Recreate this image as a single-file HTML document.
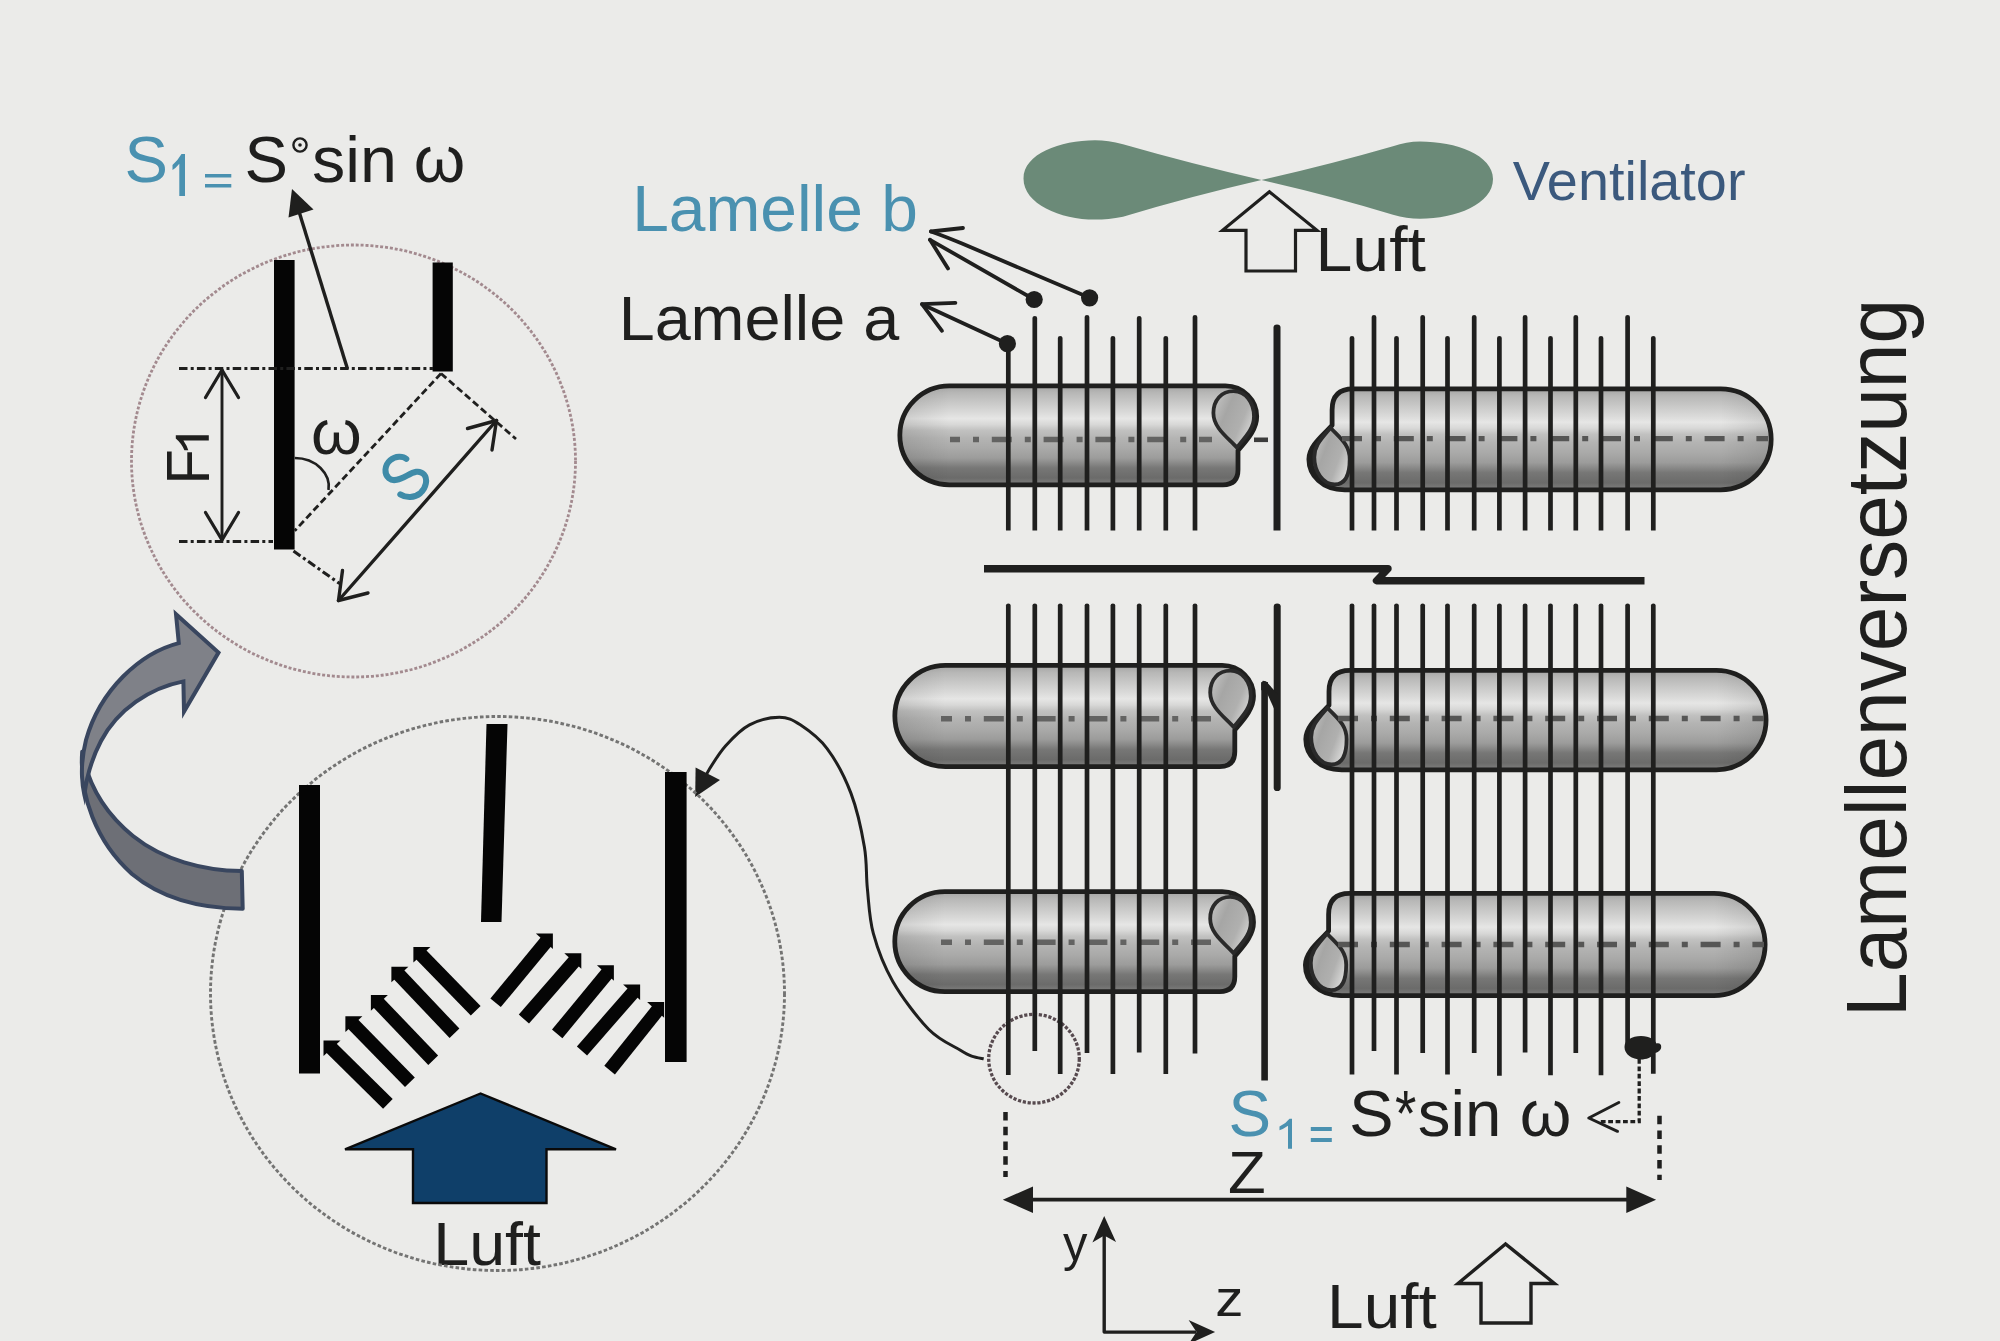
<!DOCTYPE html>
<html><head><meta charset="utf-8"><title>Lamellenversetzung</title>
<style>
html,body{margin:0;padding:0;background:#ebebe9;}
body{width:2000px;height:1341px;overflow:hidden;}
svg{display:block;}
svg text{font-family:"Liberation Sans",sans-serif;}
</style></head><body>
<svg width="2000" height="1341" viewBox="0 0 2000 1341">
<defs>
<linearGradient id="tg" x1="0" y1="0" x2="0" y2="1">
<stop offset="0" stop-color="#a4a4a3"/>
<stop offset="0.07" stop-color="#b7b7b6"/>
<stop offset="0.15" stop-color="#c5c5c4"/>
<stop offset="0.28" stop-color="#dcdcdb"/>
<stop offset="0.33" stop-color="#e6e6e5"/>
<stop offset="0.39" stop-color="#d8d8d7"/>
<stop offset="0.45" stop-color="#c1c1c0"/>
<stop offset="0.53" stop-color="#b4b4b3"/>
<stop offset="0.63" stop-color="#aaaaa9"/>
<stop offset="0.73" stop-color="#9c9c9b"/>
<stop offset="0.78" stop-color="#8a8a89"/>
<stop offset="0.83" stop-color="#777776"/>
<stop offset="0.93" stop-color="#6b6b6a"/>
<stop offset="0.98" stop-color="#7a7a79"/>
<stop offset="1" stop-color="#888887"/>
</linearGradient>
<linearGradient id="rg" x1="0" y1="0" x2="1" y2="0.6">
<stop offset="0" stop-color="#cbcbca"/>
<stop offset="0.4" stop-color="#a6a6a5"/>
<stop offset="0.75" stop-color="#b0b0af"/>
<stop offset="1" stop-color="#d4d4d3"/>
</linearGradient>
<linearGradient id="capL" x1="0" y1="0" x2="1" y2="0">
<stop offset="0" stop-color="#000" stop-opacity="0.10"/>
<stop offset="1" stop-color="#000" stop-opacity="0"/>
</linearGradient>
<linearGradient id="capR" x1="1" y1="0" x2="0" y2="0">
<stop offset="0" stop-color="#000" stop-opacity="0.10"/>
<stop offset="1" stop-color="#000" stop-opacity="0"/>
</linearGradient>
</defs>
<rect x="0" y="0" width="2000" height="1341" fill="#ebebe9"/>
<path d="M949.3,385.9 L1225.4,385.9 C1243.4,385.9 1256.7,400.5 1256.7,416.5 C1256.7,430.5 1245.4,441.5 1238.0,450.5 L1238.0,469.8 Q1238.0,484.8 1223.0,484.8 L949.3,484.8 A49.4,49.4 0 0 1 949.3,385.9 Z" fill="url(#tg)" stroke="#1f1f1e" stroke-width="4.8" stroke-linejoin="round"/>
<path d="M949.3,388.3 A47.0,47.0 0 0 0 949.3,482.4 Z" fill="url(#capL)"/>
<path d="M1236.8,447.5 C1227.8,437.5 1213.4,428.0 1213.4,413.0 C1213.4,400.0 1221.6,391.1 1233.6,391.1 C1245.6,391.1 1254.0,402.5 1254.0,416.5 C1254.0,428.5 1245.8,436.5 1236.8,447.5 Z" fill="url(#rg)" stroke="#2a2a2a" stroke-width="3.8" stroke-linejoin="round"/>
<path d="M945.4,665.4 L1222.2,665.4 C1240.2,665.4 1253.5,680.0 1253.5,696.0 C1253.5,710.0 1242.2,721.0 1234.8,730.0 L1234.8,751.6 Q1234.8,766.6 1219.8,766.6 L945.4,766.6 A50.6,50.6 0 0 1 945.4,665.4 Z" fill="url(#tg)" stroke="#1f1f1e" stroke-width="4.8" stroke-linejoin="round"/>
<path d="M945.4,667.8 A48.2,48.2 0 0 0 945.4,764.2 Z" fill="url(#capL)"/>
<path d="M1233.6,727.0 C1224.6,717.0 1210.2,707.5 1210.2,692.5 C1210.2,679.5 1218.4,670.6 1230.4,670.6 C1242.4,670.6 1250.8,682.0 1250.8,696.0 C1250.8,708.0 1242.6,716.0 1233.6,727.0 Z" fill="url(#rg)" stroke="#2a2a2a" stroke-width="3.8" stroke-linejoin="round"/>
<path d="M944.8,891.6 L1222.2,891.6 C1240.2,891.6 1253.5,906.2 1253.5,922.2 C1253.5,936.2 1242.2,947.2 1234.8,956.2 L1234.8,976.6 Q1234.8,991.6 1219.8,991.6 L944.8,991.6 A50.0,50.0 0 0 1 944.8,891.6 Z" fill="url(#tg)" stroke="#1f1f1e" stroke-width="4.8" stroke-linejoin="round"/>
<path d="M944.8,894.0 A47.6,47.6 0 0 0 944.8,989.2 Z" fill="url(#capL)"/>
<path d="M1233.6,953.2 C1224.6,943.2 1210.2,933.7 1210.2,918.7 C1210.2,905.7 1218.4,896.8 1230.4,896.8 C1242.4,896.8 1250.8,908.2 1250.8,922.2 C1250.8,934.2 1242.6,942.2 1233.6,953.2 Z" fill="url(#rg)" stroke="#2a2a2a" stroke-width="3.8" stroke-linejoin="round"/>
<path d="M1720.7,489.8 L1344.7,489.8 C1322.2,489.8 1308.9,475.2 1308.9,459.2 C1308.9,445.2 1324.7,434.2 1332.1,425.2 L1332.1,409.9 Q1332.1,388.9 1353.1,388.9 L1720.7,388.9 A50.4,50.4 0 0 1 1720.7,489.8 Z" fill="url(#tg)" stroke="#1f1f1e" stroke-width="4.8" stroke-linejoin="round"/>
<path d="M1720.7,487.4 A48.0,48.0 0 0 0 1720.7,391.3 Z" fill="url(#capR)"/>
<path d="M1344.7,489.8 C1324.6,489.8 1311.3,475.2 1311.3,459.2 C1311.3,445.2 1324.7,434.2 1332.1,425.2" fill="none" stroke="#1f1f1e" stroke-width="3.6"/>
<path d="M1330.5,427.7 C1339.5,437.7 1349.7,444.2 1349.7,459.2 C1349.7,472.2 1346.7,484.4 1334.7,484.4 C1322.7,484.4 1314.3,471.2 1314.3,457.2 C1314.3,445.2 1321.5,438.7 1330.5,427.7 Z" fill="url(#rg)" stroke="#2a2a2a" stroke-width="3.8" stroke-linejoin="round"/>
<path d="M1716.4,769.8 L1341.6,769.8 C1319.1,769.8 1305.8,755.2 1305.8,739.2 C1305.8,725.2 1321.6,714.2 1329.0,705.2 L1329.0,691.4 Q1329.0,670.4 1350.0,670.4 L1716.4,670.4 A49.7,49.7 0 0 1 1716.4,769.8 Z" fill="url(#tg)" stroke="#1f1f1e" stroke-width="4.8" stroke-linejoin="round"/>
<path d="M1716.4,767.4 A47.3,47.3 0 0 0 1716.4,672.8 Z" fill="url(#capR)"/>
<path d="M1341.6,769.8 C1321.5,769.8 1308.2,755.2 1308.2,739.2 C1308.2,725.2 1321.6,714.2 1329.0,705.2" fill="none" stroke="#1f1f1e" stroke-width="3.6"/>
<path d="M1327.4,707.7 C1336.4,717.7 1346.6,724.2 1346.6,739.2 C1346.6,752.2 1343.6,764.4 1331.6,764.4 C1319.6,764.4 1311.2,751.2 1311.2,737.2 C1311.2,725.2 1318.4,718.7 1327.4,707.7 Z" fill="url(#rg)" stroke="#2a2a2a" stroke-width="3.8" stroke-linejoin="round"/>
<path d="M1714.0,995.6 L1341.2,995.6 C1318.7,995.6 1305.4,981.0 1305.4,965.0 C1305.4,951.0 1321.2,940.0 1328.6,931.0 L1328.6,914.4 Q1328.6,893.4 1349.6,893.4 L1714.0,893.4 A51.1,51.1 0 0 1 1714.0,995.6 Z" fill="url(#tg)" stroke="#1f1f1e" stroke-width="4.8" stroke-linejoin="round"/>
<path d="M1714.0,993.2 A48.7,48.7 0 0 0 1714.0,895.8 Z" fill="url(#capR)"/>
<path d="M1341.2,995.6 C1321.1,995.6 1307.8,981.0 1307.8,965.0 C1307.8,951.0 1321.2,940.0 1328.6,931.0" fill="none" stroke="#1f1f1e" stroke-width="3.6"/>
<path d="M1327.0,933.5 C1336.0,943.5 1346.2,950.0 1346.2,965.0 C1346.2,978.0 1343.2,990.2 1331.2,990.2 C1319.2,990.2 1310.8,977.0 1310.8,963.0 C1310.8,951.0 1318.0,944.5 1327.0,933.5 Z" fill="url(#rg)" stroke="#2a2a2a" stroke-width="3.8" stroke-linejoin="round"/>
<path d="M950,439.5 H1212" stroke="#636362" stroke-width="5.4" stroke-dasharray="20 13 6 12.8" stroke-dashoffset="10" fill="none"/>
<path d="M1254,439.8 H1268" stroke="#3c3c3c" stroke-width="4.6"/>
<path d="M941,718.8 H1212" stroke="#636362" stroke-width="5.4" stroke-dasharray="20 13 6 12.8" stroke-dashoffset="9" fill="none"/>
<path d="M941,942.2 H1212" stroke="#636362" stroke-width="5.4" stroke-dasharray="20 13 6 12.8" stroke-dashoffset="9" fill="none"/>
<path d="M1342,438.6 H1768" stroke="#565655" stroke-width="5.4" stroke-dasharray="20 13 6 12.8" stroke-dashoffset="0" fill="none"/>
<path d="M1338,718.5 H1764" stroke="#565655" stroke-width="5.4" stroke-dasharray="20 13 6 12.8" stroke-dashoffset="0" fill="none"/>
<path d="M1338,944.5 H1764" stroke="#565655" stroke-width="5.4" stroke-dasharray="20 13 6 12.8" stroke-dashoffset="0" fill="none"/>
<ellipse cx="1034" cy="1058.7" rx="45.3" ry="44.3" fill="none" stroke="#574a4f" stroke-width="3.3" stroke-dasharray="3.2 1.7"/>
<path d="M1005.95,530.5 V346.1 Q1005.95,344.0 1008.30,344.0 Q1010.65,344.0 1010.65,346.1 V530.5 Z" fill="#1f1f1e"/>
<path d="M1032.45,530.5 V318.1 Q1032.45,316.0 1034.80,316.0 Q1037.15,316.0 1037.15,318.1 V530.5 Z" fill="#1f1f1e"/>
<path d="M1057.85,530.5 V338.1 Q1057.85,336.0 1060.20,336.0 Q1062.55,336.0 1062.55,338.1 V530.5 Z" fill="#1f1f1e"/>
<path d="M1084.65,530.5 V317.1 Q1084.65,315.0 1087.00,315.0 Q1089.35,315.0 1089.35,317.1 V530.5 Z" fill="#1f1f1e"/>
<path d="M1110.55,530.5 V338.1 Q1110.55,336.0 1112.90,336.0 Q1115.25,336.0 1115.25,338.1 V530.5 Z" fill="#1f1f1e"/>
<path d="M1136.85,530.5 V318.1 Q1136.85,316.0 1139.20,316.0 Q1141.55,316.0 1141.55,318.1 V530.5 Z" fill="#1f1f1e"/>
<path d="M1163.45,530.5 V338.1 Q1163.45,336.0 1165.80,336.0 Q1168.15,336.0 1168.15,338.1 V530.5 Z" fill="#1f1f1e"/>
<path d="M1192.65,530.5 V317.1 Q1192.65,315.0 1195.00,315.0 Q1197.35,315.0 1197.35,317.1 V530.5 Z" fill="#1f1f1e"/>
<path d="M1349.65,530.5 V338.1 Q1349.65,336.0 1352.00,336.0 Q1354.35,336.0 1354.35,338.1 V530.5 Z" fill="#1f1f1e"/>
<path d="M1371.65,530.5 V317.1 Q1371.65,315.0 1374.00,315.0 Q1376.35,315.0 1376.35,317.1 V530.5 Z" fill="#1f1f1e"/>
<path d="M1394.15,530.5 V338.1 Q1394.15,336.0 1396.50,336.0 Q1398.85,336.0 1398.85,338.1 V530.5 Z" fill="#1f1f1e"/>
<path d="M1420.35,530.5 V317.1 Q1420.35,315.0 1422.70,315.0 Q1425.05,315.0 1425.05,317.1 V530.5 Z" fill="#1f1f1e"/>
<path d="M1445.15,530.5 V338.1 Q1445.15,336.0 1447.50,336.0 Q1449.85,336.0 1449.85,338.1 V530.5 Z" fill="#1f1f1e"/>
<path d="M1471.85,530.5 V317.1 Q1471.85,315.0 1474.20,315.0 Q1476.55,315.0 1476.55,317.1 V530.5 Z" fill="#1f1f1e"/>
<path d="M1497.05,530.5 V338.1 Q1497.05,336.0 1499.40,336.0 Q1501.75,336.0 1501.75,338.1 V530.5 Z" fill="#1f1f1e"/>
<path d="M1522.75,530.5 V317.1 Q1522.75,315.0 1525.10,315.0 Q1527.45,315.0 1527.45,317.1 V530.5 Z" fill="#1f1f1e"/>
<path d="M1548.15,530.5 V338.1 Q1548.15,336.0 1550.50,336.0 Q1552.85,336.0 1552.85,338.1 V530.5 Z" fill="#1f1f1e"/>
<path d="M1573.45,530.5 V317.1 Q1573.45,315.0 1575.80,315.0 Q1578.15,315.0 1578.15,317.1 V530.5 Z" fill="#1f1f1e"/>
<path d="M1598.65,530.5 V338.1 Q1598.65,336.0 1601.00,336.0 Q1603.35,336.0 1603.35,338.1 V530.5 Z" fill="#1f1f1e"/>
<path d="M1625.25,530.5 V317.1 Q1625.25,315.0 1627.60,315.0 Q1629.95,315.0 1629.95,317.1 V530.5 Z" fill="#1f1f1e"/>
<path d="M1650.95,530.5 V338.1 Q1650.95,336.0 1653.30,336.0 Q1655.65,336.0 1655.65,338.1 V530.5 Z" fill="#1f1f1e"/>
<path d="M1005.95,1075.0 V605.6 Q1005.95,603.5 1008.30,603.5 Q1010.65,603.5 1010.65,605.6 V1075.0 Z" fill="#1f1f1e"/>
<path d="M1032.45,1051.0 V605.6 Q1032.45,603.5 1034.80,603.5 Q1037.15,603.5 1037.15,605.6 V1051.0 Z" fill="#1f1f1e"/>
<path d="M1057.85,1074.0 V605.6 Q1057.85,603.5 1060.20,603.5 Q1062.55,603.5 1062.55,605.6 V1074.0 Z" fill="#1f1f1e"/>
<path d="M1084.65,1053.0 V605.6 Q1084.65,603.5 1087.00,603.5 Q1089.35,603.5 1089.35,605.6 V1053.0 Z" fill="#1f1f1e"/>
<path d="M1110.55,1074.0 V605.6 Q1110.55,603.5 1112.90,603.5 Q1115.25,603.5 1115.25,605.6 V1074.0 Z" fill="#1f1f1e"/>
<path d="M1136.85,1052.5 V605.6 Q1136.85,603.5 1139.20,603.5 Q1141.55,603.5 1141.55,605.6 V1052.5 Z" fill="#1f1f1e"/>
<path d="M1163.45,1074.0 V605.6 Q1163.45,603.5 1165.80,603.5 Q1168.15,603.5 1168.15,605.6 V1074.0 Z" fill="#1f1f1e"/>
<path d="M1192.65,1053.5 V605.6 Q1192.65,603.5 1195.00,603.5 Q1197.35,603.5 1197.35,605.6 V1053.5 Z" fill="#1f1f1e"/>
<path d="M1349.65,1074.5 V605.6 Q1349.65,603.5 1352.00,603.5 Q1354.35,603.5 1354.35,605.6 V1074.5 Z" fill="#1f1f1e"/>
<path d="M1371.65,1051.0 V605.6 Q1371.65,603.5 1374.00,603.5 Q1376.35,603.5 1376.35,605.6 V1051.0 Z" fill="#1f1f1e"/>
<path d="M1394.15,1074.5 V605.6 Q1394.15,603.5 1396.50,603.5 Q1398.85,603.5 1398.85,605.6 V1074.5 Z" fill="#1f1f1e"/>
<path d="M1420.35,1053.0 V605.6 Q1420.35,603.5 1422.70,603.5 Q1425.05,603.5 1425.05,605.6 V1053.0 Z" fill="#1f1f1e"/>
<path d="M1445.15,1074.5 V605.6 Q1445.15,603.5 1447.50,603.5 Q1449.85,603.5 1449.85,605.6 V1074.5 Z" fill="#1f1f1e"/>
<path d="M1471.85,1053.0 V605.6 Q1471.85,603.5 1474.20,603.5 Q1476.55,603.5 1476.55,605.6 V1053.0 Z" fill="#1f1f1e"/>
<path d="M1497.05,1075.8 V605.6 Q1497.05,603.5 1499.40,603.5 Q1501.75,603.5 1501.75,605.6 V1075.8 Z" fill="#1f1f1e"/>
<path d="M1522.75,1052.5 V605.6 Q1522.75,603.5 1525.10,603.5 Q1527.45,603.5 1527.45,605.6 V1052.5 Z" fill="#1f1f1e"/>
<path d="M1548.15,1075.3 V605.6 Q1548.15,603.5 1550.50,603.5 Q1552.85,603.5 1552.85,605.6 V1075.3 Z" fill="#1f1f1e"/>
<path d="M1573.45,1053.0 V605.6 Q1573.45,603.5 1575.80,603.5 Q1578.15,603.5 1578.15,605.6 V1053.0 Z" fill="#1f1f1e"/>
<path d="M1598.65,1075.3 V605.6 Q1598.65,603.5 1601.00,603.5 Q1603.35,603.5 1603.35,605.6 V1075.3 Z" fill="#1f1f1e"/>
<path d="M1625.25,1044.0 V605.6 Q1625.25,603.5 1627.60,603.5 Q1629.95,603.5 1629.95,605.6 V1044.0 Z" fill="#1f1f1e"/>
<path d="M1650.95,1073.7 V605.6 Q1650.95,603.5 1653.30,603.5 Q1655.65,603.5 1655.65,605.6 V1073.7 Z" fill="#1f1f1e"/>
<path d="M1273.50,530.5 V327.6 Q1273.50,324.5 1277.00,324.5 Q1280.50,324.5 1280.50,327.6 V530.5 Z" fill="#1f1f1e"/>
<path d="M1273.70,787.9 V606.6 Q1273.70,603.5 1277.20,603.5 Q1280.70,603.5 1280.70,606.6 V787.9 Q1280.70,791.0 1277.20,791.0 Q1273.70,791.0 1273.70,787.9 Z" fill="#1f1f1e"/>
<path d="M1264.6,1080.5 V682" stroke="#1f1f1e" stroke-width="6.6" fill="none"/>
<path d="M1261.2,683.5 L1262.8,680.8 L1266,681.2 L1278,694.5 L1278,709.5 L1274.2,709 L1267.2,693.5 L1261.2,690 Z" fill="#1f1f1e"/>
<path d="M984,568.8 H1388 L1376.5,580.7 H1644.5" stroke="#1f1f1e" stroke-width="7.4" fill="none" stroke-linejoin="round" stroke-linecap="butt"/>
<path d="M1261.5,180 Q1190,163.5 1123,144.3 C1113,141.6 1104,140.3 1095,140.3 C1060,140.3 1023.5,154 1023.5,178.5 C1023.5,204 1060,219.6 1095,219.6 C1104,219.6 1113,218.6 1123,216.7 Q1190,196.5 1261.5,180 Z M1261.5,180 Q1330,164.5 1393,146.3 C1402,143.4 1411,141.5 1420,141.5 C1456,141.5 1493,155 1493,179 C1493,204 1456,218.8 1420,218.8 C1411,218.8 1402,217.2 1393,214.7 Q1330,195.5 1261.5,180 Z" fill="#6b8a78"/>
<text transform="translate(1512.72,199.60) scale(0.9970,1)" font-size="56.00" fill="#3b597d">Ventilator</text>
<text transform="translate(632.16,230.80) scale(1.0138,1)" font-size="65.00" fill="#4a91b0">Lamelle b</text>
<text transform="translate(618.66,339.80) scale(1.0191,1)" font-size="63.50" fill="#1f1f1e">Lamelle a</text>
<text transform="translate(1315.54,270.80) scale(1.0589,1)" font-size="62.50" fill="#1f1f1e">Luft</text>
<text transform="translate(1327.07,1327.50) scale(1.0362,1)" font-size="63.50" fill="#1f1f1e">Luft</text>
<text transform="translate(433.17,1265.00) scale(1.0514,1)" font-size="61.50" fill="#1f1f1e">Luft</text>
<path d="M1269.4,191.8 L1222.5,230.3 H1246 V271 H1295.5 V230.3 H1317 Z" fill="none" stroke="#1f1f1e" stroke-width="3.2" stroke-linejoin="miter"/>
<path d="M1505.5,1244 L1458,1283.5 H1481 V1323 H1531 V1283.5 H1554.5 Z" fill="none" stroke="#1f1f1e" stroke-width="3.4" stroke-linejoin="miter"/>
<g stroke="#1f1f1e" stroke-width="3.8" fill="none" stroke-linecap="round" stroke-linejoin="round"><path d="M1034.2,299.5 L930,239.8"/><path d="M1089.6,297.8 L962,243.5 Q945,236.5 931,231.5"/><path d="M963,228 L931,231.5"/><path d="M930,239.8 L948,268.5"/><path d="M1007.4,343.7 L922,304.2"/><path d="M955.4,302.8 L922,304.2 L942,330.8"/></g>
<circle cx="1034.2" cy="299.5" r="8.6" fill="#1f1f1e"/>
<circle cx="1089.6" cy="297.8" r="8.6" fill="#1f1f1e"/>
<circle cx="1007.4" cy="343.7" r="8.6" fill="#1f1f1e"/>
<path d="M983.7,1058.8 C981.7,1058.4 975.6,1057.7 971.6,1056.2 C967.6,1054.7 967.2,1054.5 960.0,1050.0 C952.8,1045.5 939.8,1040.6 928.6,1029.2 C917.4,1017.8 902.0,997.3 892.8,981.4 C883.6,965.5 877.6,949.1 873.4,933.7 C869.2,918.3 868.9,903.3 867.4,888.9 C865.9,874.5 867.1,863.0 864.4,847.1 C861.7,831.2 857.2,809.8 851.0,793.4 C844.8,777.0 835.6,760.0 827.1,748.6 C818.6,737.2 808.2,730.0 800.3,724.8 C792.3,719.6 787.9,717.3 779.4,717.3 C770.9,717.3 758.5,720.1 749.5,724.8 C740.5,729.5 732.4,738.2 725.7,745.7 C719.0,753.2 713.3,762.8 709.2,769.5 C705.1,776.2 702.4,783.2 701.0,786.0" fill="none" stroke="#1f1f1e" stroke-width="3"/>
<path d="M695.2,797 L695.6,767.5 L720,780 Z" fill="#1f1f1e"/>
<path d="M1624.5,1047 C1624.5,1040 1632,1036 1641,1036 C1650,1036 1655,1040 1656.5,1043.5 C1659,1042.5 1661.5,1044 1661.2,1047 C1661,1051 1657,1052.5 1655,1053 C1652,1057.5 1646,1059.5 1641,1059.5 C1632,1059.5 1624.5,1054.5 1624.5,1047 Z" fill="#1f1f1e"/>
<path d="M1639.2,1059 V1121.6 H1600" fill="none" stroke="#1f1f1e" stroke-width="3.3" stroke-dasharray="4.8 2.6"/>
<path d="M1618.8,1102.5 L1588.8,1118 L1617.5,1131.3" fill="none" stroke="#1f1f1e" stroke-width="3" stroke-linecap="round" stroke-linejoin="round"/>
<path d="M1005.5,1112 V1177" stroke="#1f1f1e" stroke-width="4.5" stroke-dasharray="8.5 6.26" fill="none"/>
<path d="M1659.5,1115.7 V1180.1" stroke="#1f1f1e" stroke-width="4.5" stroke-dasharray="8.5 6.26" fill="none"/>
<path d="M1025,1199.7 H1634" stroke="#1f1f1e" stroke-width="3.7" fill="none"/>
<path d="M1002.8,1199.7 L1033,1186.5 V1212.9 Z M1656.1,1199.7 L1626.3,1186.5 V1212.9 Z" fill="#1f1f1e"/>
<text transform="translate(1227.99,1192.50) scale(1.0553,1)" font-size="58.50" fill="#1f1f1e">Z</text>
<text transform="translate(1228.43,1136.40) scale(0.9715,1)" font-size="65.70" fill="#4a91b0">S</text>
<path d="M1292.0,1118.8 L1292.0,1148.8 L1288.0,1148.8 L1288.0,1125.7 Q1283.3,1129.0 1279.5,1130.2 L1279.5,1126.6 Q1285.6,1123.9 1289.5,1118.8 Z" fill="#4a91b0"/>
<path d="M1310.8,1127 H1331.8 V1131.0 H1310.8 Z M1310.8,1138.0 H1331.8 V1142 H1310.8 Z" fill="#4a91b0"/>
<text transform="translate(1348.99,1136.40) scale(1.0191,1)" font-size="65.70" fill="#1f1f1e">S</text>
<text transform="translate(1395.04,1136.40) scale(0.8583,1)" font-size="64.00" fill="#1f1f1e">*</text>
<text transform="translate(1417.70,1136.40) scale(1.0219,1)" font-size="64.00" fill="#1f1f1e">sin</text>
<text transform="translate(1519.85,1136.40) scale(1.0335,1)" font-size="64.00" fill="#1f1f1e">ω</text>
<path d="M1104.2,1232 V1332.1 H1196" stroke="#1f1f1e" stroke-width="3.4" fill="none" stroke-linejoin="round"/>
<path d="M1104.2,1215.9 L1092.4,1242.6 L1104.2,1235.5 L1116,1242 Z M1215.1,1332.1 L1188.6,1320.1 L1196.5,1332.1 L1188.6,1344 Z" fill="#1f1f1e"/>
<text transform="translate(1062.98,1260.60) scale(0.9662,1)" font-size="50.60" fill="#1f1f1e">y</text>
<text transform="translate(1215.15,1316.10) scale(1.1004,1)" font-size="51.20" fill="#1f1f1e">z</text>
<text transform="translate(1905.9,1016.9) rotate(-90) scale(0.9330,1)" font-size="86.0" fill="#1f1f1e">Lamellenversetzung</text>
<ellipse cx="353.5" cy="461" rx="222" ry="216" fill="none" stroke="#a38a8f" stroke-width="2.8" stroke-dasharray="3 1.9"/>
<text transform="translate(124.57,182.00) scale(0.9957,1)" font-size="65.50" fill="#4a91b0">S</text>
<path d="M185.0,154.0 L185.0,196.0 L179.3,196.0 L179.3,163.7 Q175.6,168.3 172.5,170.0 L172.5,164.9 Q177.4,161.1 181.5,154.0 Z" fill="#4a91b0"/>
<path d="M205,174 H231.3 V177.6 H205 Z M205,183.9 H231.3 V187.5 H205 Z" fill="#4a91b0"/>
<text transform="translate(244.57,182.00) scale(0.9957,1)" font-size="65.50" fill="#1f1f1e">S</text>
<circle cx="300" cy="145" r="6.6" fill="none" stroke="#1f1f1e" stroke-width="2.4"/>
<circle cx="300" cy="145" r="1.8" fill="#1f1f1e"/>
<text transform="translate(311.97,182.00) scale(1.0297,1)" font-size="64.50" fill="#1f1f1e">sin</text>
<text transform="translate(413.66,182.00) scale(1.0233,1)" font-size="64.50" fill="#1f1f1e">ω</text>
<path d="M347.5,369 L297,205" stroke="#1f1f1e" stroke-width="3.4" fill="none"/>
<path d="M292,189 L288.5,217.5 L313.5,209.5 Z" fill="#1f1f1e"/>
<rect x="274" y="260" width="20.6" height="289.5" fill="#050505"/>
<rect x="432.6" y="262.5" width="20.2" height="109" fill="#050505"/>
<path d="M179,368.5 H433" stroke="#1f1f1e" stroke-width="3.1" stroke-dasharray="8.5 3.2 3 3.2" fill="none"/>
<path d="M179,541.5 H273" stroke="#1f1f1e" stroke-width="3.1" stroke-dasharray="8.5 3.2 3 3.2" fill="none"/>
<path d="M293.5,551 L339.5,583.5" stroke="#1f1f1e" stroke-width="3.1" stroke-dasharray="8.5 3.2 3 3.2" fill="none"/>
<path d="M441,373.5 L294.7,530.8" stroke="#1f1f1e" stroke-width="2.8" stroke-dasharray="7 3.6" fill="none"/>
<path d="M441,373.5 L516,439" stroke="#1f1f1e" stroke-width="2.8" stroke-dasharray="7 3.6" fill="none"/>
<g stroke="#1f1f1e" stroke-width="3.3" fill="none" stroke-linecap="round" stroke-linejoin="round"><path d="M222,370 V540" stroke-width="2.9"/><path d="M205.5,397.5 L222,370 L238.5,397.5"/><path d="M205.5,512.5 L222,540 L238.5,512.5"/></g>
<text transform="translate(208.8,484.4) rotate(-90) scale(0.942,1)" font-size="61.4" fill="#1f1f1e">F</text>
<g transform="translate(208.8,450.3) rotate(-90)">
<path d="M15.0,-33.0 L15.0,0.0 L9.7,0.0 L9.7,-25.4 Q4.4,-21.8 0.0,-20.5 L0.0,-24.4 Q7.0,-27.4 11.7,-33.0 Z" fill="#1f1f1e"/>
</g>
<g stroke="#1f1f1e" stroke-width="3.4" fill="none" stroke-linecap="round" stroke-linejoin="round"><path d="M338.5,600.5 L496.5,420.5"/><path d="M368,593 L338.5,600.5 L342.5,570.5"/><path d="M467.5,428.5 L496.5,420.5 L492,450"/></g>
<path d="M406.3,458.9 C403,455.8 395.5,455.6 390.2,460.2 C384.2,465.4 384,474 388.9,478.3 C393.2,482 399.5,479.6 407,475.6 C414,471.8 419.3,469.6 423.8,474.3 C428,479 426.2,488 420.4,493.1 C414.2,498.3 406,498 400.3,494.4" fill="none" stroke="#3f8ba8" stroke-width="6" stroke-linecap="round"/>
<text transform="translate(310.90,453.60) scale(1.0400,1)" font-size="62.50" fill="#1f1f1e">ω</text>
<path d="M294.7,458 C316,458 331,474 328.5,490" stroke="#1f1f1e" stroke-width="2.6" fill="none"/>
<ellipse cx="497.5" cy="993.5" rx="287" ry="277" fill="none" stroke="#747473" stroke-width="2.9" stroke-dasharray="3.6 2.2"/>
<path d="M82.2,751.7 C79,795 96,842 132,874 C162,899 202,908.5 242.7,908.7 L241.8,871.1 C203,870.5 163,860 133,836 C106,814 88,785 82.2,751.7 Z" fill="#6d6f76" stroke="#39465f" stroke-width="4" stroke-linejoin="round"/>
<path d="M178.8,643.1 C140,653 100,690 86,740 C83,752 81.5,764 82,776 C82.3,783 83,789 84.3,794.6 C87,775 92,758 101,741 C118,709 150,688 183.4,681.4 L184.0,711.5 L218.5,652.6 L176.0,614.2 Z" fill="#7f8188" stroke="#39465f" stroke-width="4" stroke-linejoin="miter" stroke-miterlimit="6"/>
<rect x="299" y="785" width="21" height="288.5" fill="#050505"/>
<rect x="665" y="772" width="21.6" height="290" fill="#050505"/>
<path d="M486.5,724 H507.5 L501.5,922 H481 Z" fill="#050505"/>
<path d="M392.7,1099.1 L334.9,1042.1 L325.4,1051.8 L383.1,1108.7 Z" fill="#050505"/>
<path d="M323.5,1040.4 L340.5,1040.4 L323.5,1056.0 Z" fill="#050505"/>
<path d="M414.8,1077.4 L356.8,1018.2 L347.1,1027.7 L405.0,1087.0 Z" fill="#050505"/>
<path d="M345.4,1016.3 L362.4,1016.3 L345.4,1031.9 Z" fill="#050505"/>
<path d="M438.1,1055.5 L382.3,997.2 L372.5,1006.6 L428.3,1064.9 Z" fill="#050505"/>
<path d="M370.9,995.1 L387.9,995.1 L370.9,1010.7 Z" fill="#050505"/>
<path d="M459.4,1028.6 L402.8,968.8 L392.9,978.2 L449.6,1038.0 Z" fill="#050505"/>
<path d="M391.4,966.7 L408.4,966.7 L391.4,982.3 Z" fill="#050505"/>
<path d="M480.6,1005.9 L424.8,948.8 L415.1,958.3 L470.8,1015.5 Z" fill="#050505"/>
<path d="M413.4,946.9 L430.4,946.9 L413.4,962.5 Z" fill="#050505"/>
<path d="M500.8,1007.1 L552.2,944.9 L541.7,936.3 L490.4,998.5 Z" fill="#050505"/>
<path d="M552.9,933.4 L535.9,933.4 L552.9,949.0 Z" fill="#050505"/>
<path d="M529.0,1023.6 L580.3,964.7 L570.0,955.8 L518.8,1014.6 Z" fill="#050505"/>
<path d="M581.3,953.2 L564.3,953.2 L581.3,968.8 Z" fill="#050505"/>
<path d="M562.4,1038.2 L613.2,976.7 L602.7,968.1 L552.0,1029.6 Z" fill="#050505"/>
<path d="M613.9,965.2 L596.9,965.2 L613.9,980.8 Z" fill="#050505"/>
<path d="M587.1,1055.4 L639.1,995.9 L628.8,987.0 L576.9,1046.4 Z" fill="#050505"/>
<path d="M640.1,984.4 L623.1,984.4 L640.1,1000.0 Z" fill="#050505"/>
<path d="M614.9,1074.4 L663.6,1013.6 L652.9,1005.1 L604.3,1065.8 Z" fill="#050505"/>
<path d="M664.1,1002.1 L647.1,1002.1 L664.1,1017.7 Z" fill="#050505"/>
<path d="M480.5,1093.5 L345,1149.3 H413 V1203 H546.5 V1149.3 H616 Z" fill="#0f3f69" stroke="#0a0a0a" stroke-width="2.4" stroke-linejoin="miter"/>
</svg>
</body></html>
